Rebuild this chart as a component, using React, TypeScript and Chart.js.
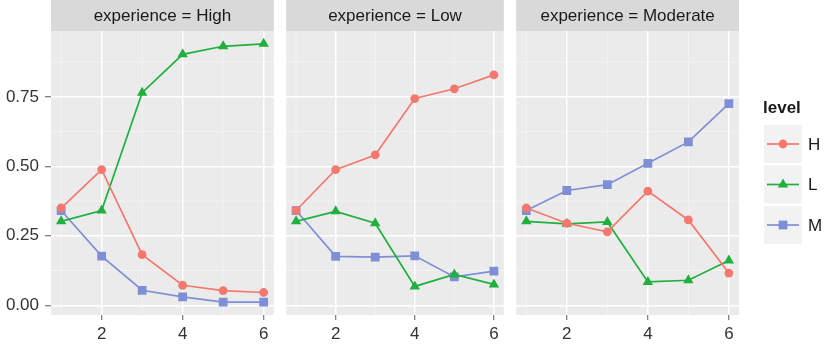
import React, { useEffect, useRef } from "react";
import { Chart, registerables } from "chart.js";
import { drawPoint } from "chart.js/helpers";

Chart.register(...registerables);

// x positions (step) shared by every facet
const steps = [1, 2, 3, 4, 5, 6];

// facet and level names
const experiences = ["High", "Low", "Moderate"];
const levels = ["H", "L", "M"];

// proportion per step for each experience × level
const highH = [0.35, 0.488, 0.182, 0.072, 0.053, 0.046];
const highL = [0.302, 0.341, 0.765, 0.903, 0.932, 0.941];
const highM = [0.341, 0.177, 0.054, 0.03, 0.011, 0.011];

const lowH = [0.341, 0.488, 0.541, 0.744, 0.779, 0.829];
const lowL = [0.302, 0.338, 0.295, 0.068, 0.111, 0.075];
const lowM = [0.341, 0.176, 0.173, 0.178, 0.102, 0.123];

const modH = [0.35, 0.295, 0.264, 0.411, 0.307, 0.116];
const modL = [0.302, 0.293, 0.3, 0.084, 0.09, 0.161];
const modM = [0.341, 0.413, 0.434, 0.511, 0.588, 0.726];

// tick positions
const xTicks = [2, 4, 6];
const yTicks = [0, 0.25, 0.5, 0.75];
const xMinor = [1, 3, 5];
const yMinor = [0.125, 0.375, 0.625, 0.875];

const seriesByFacet = [
  [highH, highL, highM],
  [lowH, lowL, lowM],
  [modH, modL, modM],
];

const FONT = "'Liberation Sans', Arial, Helvetica, sans-serif";
const levelColors = ["#F5786F", "#1FB03E", "#7F8FD6"];
const levelShapes = [
  { pointStyle: "circle", radius: 4.4 },
  { pointStyle: "triangle", radius: 6 },
  { pointStyle: "rect", radius: 6.2 },
];

// panel background, facet strip and minor grid, painted under the scales
const panelDecor = {
  id: "panelDecor",
  beforeDraw(chart: any, _args: any, opts: any) {
    const { ctx, chartArea: a, scales } = chart;
    ctx.save();
    ctx.fillStyle = "#EBEBEB";
    ctx.fillRect(a.left, a.top, a.right - a.left, a.bottom - a.top);
    ctx.fillStyle = "#D9D9D9";
    ctx.fillRect(a.left, 0, a.right - a.left, a.top);
    ctx.fillStyle = "#1A1A1A";
    ctx.font = `17px ${FONT}`;
    ctx.textAlign = "center";
    ctx.textBaseline = "middle";
    ctx.fillText(opts.title, (a.left + a.right) / 2, a.top / 2 + 1);

    ctx.strokeStyle = "#F4F4F4";
    ctx.lineWidth = 0.9;
    ctx.beginPath();
    for (const v of xMinor) {
      const px = scales.x.getPixelForValue(v);
      ctx.moveTo(px, a.top);
      ctx.lineTo(px, a.bottom);
    }
    for (const v of yMinor) {
      const py = scales.y.getPixelForValue(v);
      ctx.moveTo(a.left, py);
      ctx.lineTo(a.right, py);
    }
    ctx.stroke();
    ctx.restore();
  },
};

// "level" legend to the right of the last panel
const levelLegend = {
  id: "levelLegend",
  afterDraw(chart: any, _args: any, opts: any) {
    if (!opts.show) return;
    const { ctx, chartArea: a } = chart;
    const x0 = a.right + 25;
    const keyW = 38;
    const keyH = 38;
    const pitch = 40.5;
    const top = 125;
    ctx.save();
    ctx.fillStyle = "#1A1A1A";
    ctx.font = `bold 17px ${FONT}`;
    ctx.textAlign = "left";
    ctx.textBaseline = "middle";
    ctx.fillText("level", x0 - 1, 108);

    levels.forEach((name, i) => {
      const y = top + i * pitch;
      const cy = y + keyH / 2;
      ctx.fillStyle = "#F2F2F2";
      ctx.fillRect(x0, y, keyW, keyH);
      ctx.strokeStyle = levelColors[i];
      ctx.lineWidth = 1.7;
      ctx.beginPath();
      ctx.moveTo(x0 + 3, cy);
      ctx.lineTo(x0 + keyW - 3, cy);
      ctx.stroke();
      ctx.fillStyle = levelColors[i];
      drawPoint(ctx, { ...levelShapes[i], rotation: 0, borderWidth: 0 } as any, x0 + keyW / 2, cy);
      ctx.fillStyle = "#1A1A1A";
      ctx.font = `17px ${FONT}`;
      ctx.fillText(name, x0 + 44, cy + 1);
    });
    ctx.restore();
  },
};

type PanelSpec = {
  left: number;
  width: number;
  padLeft: number;
  padRight: number;
  showY: boolean;
  legend: boolean;
};

const panels: PanelSpec[] = [
  { left: 0, width: 280, padLeft: 0, padRight: 5, showY: true, legend: false },
  { left: 280, width: 230, padLeft: 3, padRight: 3, showY: false, legend: false },
  { left: 510, width: 316, padLeft: 5, padRight: 87, showY: false, legend: true },
];

function buildConfig(facet: number, spec: PanelSpec): any {
  const series = seriesByFacet[facet];
  const lines = series.map((vals, i) => ({
    label: levels[i],
    data: steps.map((x, j) => ({ x, y: vals[j] })),
    borderColor: levelColors[i],
    borderWidth: 1.7,
    pointRadius: 0,
    showLine: true,
    order: 2,
  }));
  const points = series.map((vals, i) => ({
    label: levels[i],
    data: steps.map((x, j) => ({ x, y: vals[j] })),
    showLine: false,
    pointStyle: levelShapes[i].pointStyle,
    pointRadius: levelShapes[i].radius,
    pointBackgroundColor: levelColors[i],
    pointBorderWidth: 0,
    order: 1,
  }));

  return {
    type: "line",
    data: { datasets: [...lines, ...points] },
    plugins: [panelDecor, levelLegend],
    options: {
      responsive: false,
      animation: false,
      events: [],
      layout: { padding: { left: spec.padLeft, right: spec.padRight, top: 31, bottom: 0 } },
      plugins: {
        legend: { display: false },
        tooltip: { enabled: false },
        panelDecor: { title: `experience = ${experiences[facet]}` },
        levelLegend: { show: spec.legend },
      },
      scales: {
        x: {
          type: "linear",
          min: 0.75,
          max: 6.25,
          afterBuildTicks: (s: any) => {
            s.ticks = xTicks.map((value) => ({ value }));
          },
          afterFit: (s: any) => {
            s.height = 31;
          },
          grid: {
            color: "#FFFFFF",
            lineWidth: 1.5,
            drawTicks: true,
            tickLength: 5,
            tickColor: "#5A5A5A",
            tickWidth: 1,
          },
          border: { display: false },
          ticks: {
            color: "#333333",
            font: { family: FONT, size: 17 },
            padding: 4,
            maxRotation: 0,
            autoSkip: false,
            callback: (v: any) => String(v),
          },
        },
        y: {
          type: "linear",
          min: -0.035,
          max: 0.987,
          afterBuildTicks: (s: any) => {
            s.ticks = yTicks.map((value) => ({ value }));
          },
          afterFit: (s: any) => {
            s.width = spec.showY ? 51 : 0;
          },
          grid: {
            color: "#FFFFFF",
            lineWidth: 1.5,
            drawTicks: spec.showY,
            tickLength: 6,
            tickColor: "#5A5A5A",
            tickWidth: 1,
          },
          border: { display: false },
          ticks: {
            display: spec.showY,
            color: "#333333",
            font: { family: FONT, size: 17 },
            padding: 6,
            callback: (v: any) => Number(v).toFixed(2),
          },
        },
      },
    },
  };
}

function Panel({ facet, spec }: { facet: number; spec: PanelSpec }) {
  const ref = useRef<HTMLCanvasElement | null>(null);
  useEffect(() => {
    if (!ref.current) return;
    const chart = new Chart(ref.current, buildConfig(facet, spec));
    return () => chart.destroy();
  }, [facet, spec]);
  return (
    <canvas
      ref={ref}
      width={spec.width}
      height={346}
      style={{ position: "absolute", left: spec.left, top: 0, width: spec.width, height: 346 }}
    />
  );
}

export default function App() {
  return (
    <div style={{ position: "absolute", left: 0, top: 0, width: 826, height: 346, background: "#FFFFFF" }}>
      {panels.map((spec, i) => (
        <Panel key={i} facet={i} spec={spec} />
      ))}
    </div>
  );
}
